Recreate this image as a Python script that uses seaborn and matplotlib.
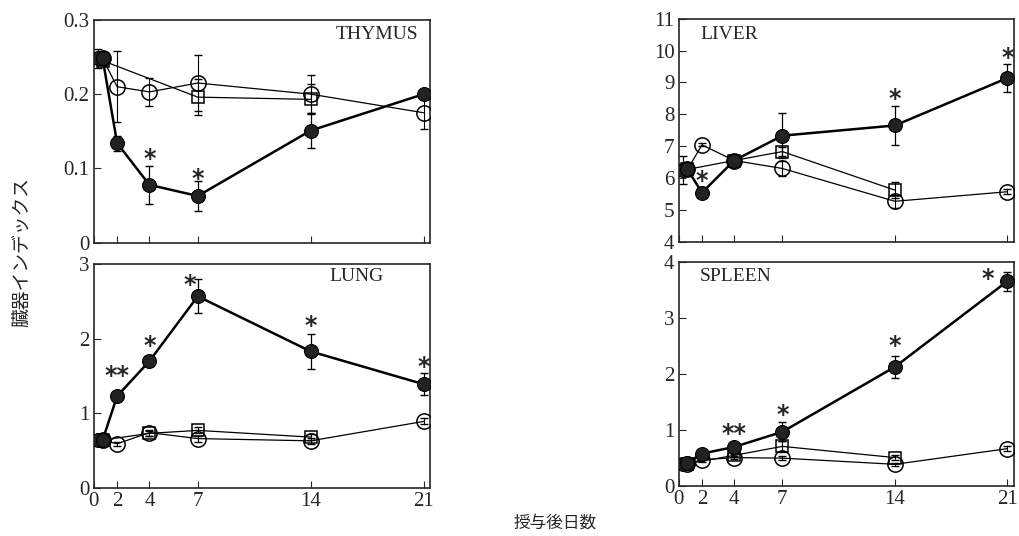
import numpy as np
import pandas as pd
import matplotlib
matplotlib.use("Agg")
import matplotlib.pyplot as plt
import seaborn as sns

# x positions (days); the two overlapping points at the start sit just right of the axis
days_t = [0.8, 1.1, 2, 4, 7, 14, 21]     # treated (filled circles)
days_c = [1.1, 2, 4, 7, 14, 21]          # control (open circles)
days_s = [1.1, 4, 7, 14]                 # squares
days_s_thymus = [1.1, 7, 14]

x_ticks = [0.55, 2, 4, 7, 14, 21]
x_ticklabels = ["0", "2", "4", "7", "14", "21"]

# THYMUS
thymus_t = [0.248, 0.248, 0.134, 0.078, 0.063, 0.151, 0.200]
thymus_t_err = [0.013, 0.006, 0.010, 0.026, 0.020, 0.024, 0.004]
thymus_c = [0.248, 0.210, 0.203, 0.215, 0.200, 0.175]
thymus_c_err = [0.0, 0.048, 0.019, 0.038, 0.026, 0.022]
thymus_s = [0.245, 0.196, 0.193]
thymus_s_err = [0.0, 0.024, 0.020]
thymus_stars = [(4, 0.118, "*"), (7, 0.092, "*")]

# LIVER
liver_t = [6.25, 6.27, 5.54, 6.55, 7.33, 7.65, 9.14]
liver_t_err = [0.45, 0.05, 0.05, 0.05, 0.70, 0.60, 0.45]
liver_c = [6.27, 7.04, 6.55, 6.30, 5.27, 5.57]
liver_c_err = [0.0, 0.05, 0.05, 0.25, 0.20, 0.07]
liver_s = [6.27, 6.55, 6.83, 5.62]
liver_s_err = [0.0, 0.05, 0.15, 0.25]
liver_stars = [(2, 6.05, "*"), (14, 8.6, "*"), (21, 9.9, "*")]

# LUNG
lung_t = [0.64, 0.64, 1.23, 1.70, 2.57, 1.83, 1.39]
lung_t_err = [0.03, 0.03, 0.03, 0.03, 0.23, 0.24, 0.15]
lung_c = [0.64, 0.59, 0.74, 0.66, 0.63, 0.89]
lung_c_err = [0.0, 0.03, 0.04, 0.04, 0.04, 0.04]
lung_s = [0.64, 0.73, 0.77, 0.68]
lung_s_err = [0.0, 0.03, 0.04, 0.04]
lung_stars = [(2, 1.55, "**"), (4, 1.96, "*"), (6.5, 2.78, "*"), (14, 2.23, "*"), (21, 1.68, "*")]

# SPLEEN
spleen_t = [0.40, 0.42, 0.58, 0.70, 0.97, 2.13, 3.66]
spleen_t_err = [0.03, 0.03, 0.04, 0.04, 0.17, 0.20, 0.17]
spleen_c = [0.40, 0.47, 0.51, 0.50, 0.39, 0.67]
spleen_c_err = [0.0, 0.03, 0.03, 0.03, 0.03, 0.05]
spleen_s = [0.40, 0.55, 0.71, 0.51]
spleen_s_err = [0.0, 0.03, 0.10, 0.05]
spleen_stars = [(4, 1.0, "**"), (7, 1.35, "*"), (14, 2.57, "*"), (19.8, 3.77, "*")]

sns.set_style("ticks")
plt.rcParams["font.family"] = ["Liberation Serif", "DejaVu Serif"]
plt.rcParams["xtick.direction"] = "in"
plt.rcParams["ytick.direction"] = "in"

fig = plt.figure(figsize=(10.19, 5.36), dpi=100)
ax_thymus = fig.add_axes([0.092, 0.547, 0.330, 0.416])
ax_lung = fig.add_axes([0.092, 0.090, 0.330, 0.417])
ax_liver = fig.add_axes([0.666, 0.549, 0.329, 0.416])
ax_spleen = fig.add_axes([0.666, 0.093, 0.329, 0.418])


def draw_panel(ax, t, t_err, c, c_err, s, s_err, sdays, stars, ylim, yticks, yticklabels,
               name, name_pos, name_ha, bottom):
    # error bars first so markers sit on top
    ax.errorbar(days_c, c, yerr=c_err, fmt="none", ecolor="black", elinewidth=0.8, capsize=3, zorder=2)
    ax.errorbar(sdays, s, yerr=s_err, fmt="none", ecolor="black", elinewidth=0.8, capsize=3, zorder=2)
    ax.errorbar(days_t, t, yerr=t_err, fmt="none", ecolor="black", elinewidth=0.9, capsize=3, zorder=2)

    df_c = pd.DataFrame({"day": days_c, "value": c})
    df_s = pd.DataFrame({"day": sdays, "value": s})
    df_t = pd.DataFrame({"day": days_t, "value": t})
    sns.lineplot(data=df_c, x="day", y="value", ax=ax, color="black", linewidth=0.9,
                 marker="o", markersize=11, markerfacecolor="none", markeredgecolor="black",
                 markeredgewidth=1.1, estimator=None, zorder=3)
    sns.lineplot(data=df_s, x="day", y="value", ax=ax, color="black", linewidth=0.9,
                 marker="s", markersize=8, markerfacecolor="none", markeredgecolor="black",
                 markeredgewidth=1.1, estimator=None, zorder=3)
    sns.lineplot(data=df_t, x="day", y="value", ax=ax, color="black", linewidth=1.8,
                 marker="o", markersize=10, markerfacecolor="#222222", markeredgecolor="black",
                 markeredgewidth=0.8, estimator=None, zorder=4)

    for sx, sy, txt in stars:
        ax.annotate(txt, (sx, sy), xytext=(0, -3), textcoords="offset points",
                    ha="center", va="center", fontsize=17,
                    family=["DejaVu Sans"], fontweight="bold")

    ax.text(name_pos[0], name_pos[1], name, transform=ax.transAxes, ha=name_ha, va="center",
            fontsize=14)

    ax.set_xlim(0.55, 21.4)
    ax.set_ylim(*ylim)
    ax.set_yticks(yticks)
    ax.set_yticklabels(yticklabels, fontsize=15)
    ax.set_xticks(x_ticks)
    if bottom:
        ax.set_xticklabels(x_ticklabels, fontsize=15)
    else:
        ax.set_xticklabels([])
    ax.tick_params(length=5, width=0.8, pad=3)
    ax.set_xlabel("")
    ax.set_ylabel("")
    for sp in ax.spines.values():
        sp.set_linewidth(1.2)


draw_panel(ax_thymus, thymus_t, thymus_t_err, thymus_c, thymus_c_err, thymus_s, thymus_s_err,
           days_s_thymus, thymus_stars, (0, 0.3), [0, 0.1, 0.2, 0.3], ["0", "0.1", "0.2", "0.3"],
           "THYMUS", (0.965, 0.935), "right", False)
draw_panel(ax_liver, liver_t, liver_t_err, liver_c, liver_c_err, liver_s, liver_s_err,
           days_s, liver_stars, (4, 11), list(range(4, 12)), [str(v) for v in range(4, 12)],
           "LIVER", (0.065, 0.93), "left", False)
draw_panel(ax_lung, lung_t, lung_t_err, lung_c, lung_c_err, lung_s, lung_s_err,
           days_s, lung_stars, (0, 3), [0, 1, 2, 3], ["0", "1", "2", "3"],
           "LUNG", (0.70, 0.945), "left", True)
draw_panel(ax_spleen, spleen_t, spleen_t_err, spleen_c, spleen_c_err, spleen_s, spleen_s_err,
           days_s, spleen_stars, (0, 4), [0, 1, 2, 3, 4], ["0", "1", "2", "3", "4"],
           "SPLEEN", (0.063, 0.935), "left", True)

fig.text(0.022, 0.53, "臓器インデックス", rotation=90, ha="center", va="center",
         fontsize=13.5, family=["Noto Sans CJK JP", "DejaVu Sans"])
fig.text(0.545, 0.024, "授与後日数", ha="center", va="center",
         fontsize=12, family=["Noto Sans CJK JP", "DejaVu Sans"])

fig.savefig("out.png", dpi=100)
